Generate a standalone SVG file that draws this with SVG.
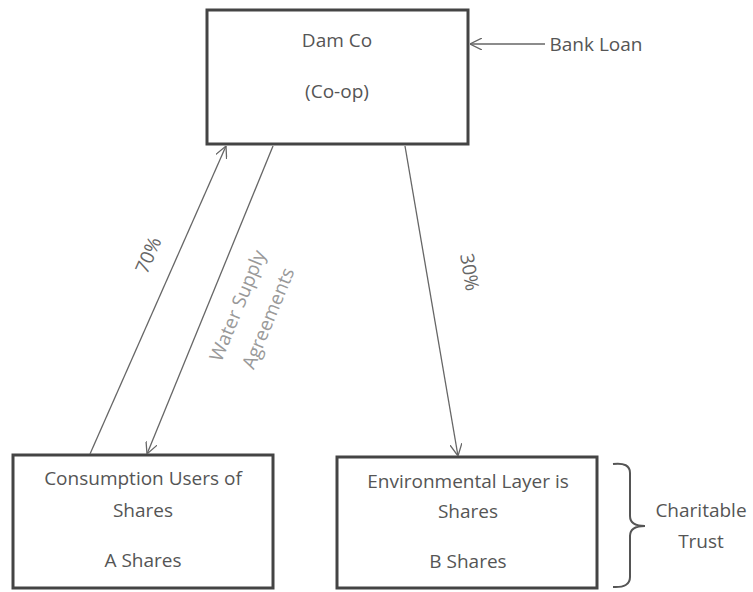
<svg xmlns="http://www.w3.org/2000/svg" width="753" height="592" viewBox="0 0 753 592">
<style>
.box{fill:#fff;stroke:#444;stroke-width:3}
.lbl{font-family:"Open Sans","Noto Sans",sans-serif;font-size:19px;fill:#555;text-anchor:middle}
.pct{fill:#666}
.light{fill:#999}
.conn{stroke:#666;stroke-width:1.3;fill:none}
</style>
<defs>
<marker id="arr" viewBox="0 0 12 12" refX="12" refY="6" markerWidth="12" markerHeight="12" markerUnits="userSpaceOnUse" orient="auto">
<path d="M0,0 L12,6 L0,12" fill="none" stroke="#666" stroke-width="1.3"/>
</marker>
</defs>
<rect width="753" height="592" fill="#fff"/>
<g id="damco">
<rect class="box" x="207" y="10" width="261" height="134"/>
<text class="lbl" x="337" y="47">Dam Co</text>
<text class="lbl" x="337" y="98">(Co-op)</text>
</g>
<g id="bankloan">
<text class="lbl" x="596" y="51">Bank Loan</text>
</g>
<g id="consumption">
<rect class="box" x="13" y="455" width="260" height="133"/>
<text class="lbl" x="143" y="485">Consumption Users of</text>
<text class="lbl" x="143" y="517">Shares</text>
<text class="lbl" x="143" y="567">A Shares</text>
</g>
<g id="environmental">
<rect class="box" x="337" y="457" width="260" height="131"/>
<text class="lbl" x="468" y="488">Environmental Layer is</text>
<text class="lbl" x="468" y="518">Shares</text>
<text class="lbl" x="468" y="568">B Shares</text>
</g>
<g id="charitable">
<path d="M613,464 Q630,462 630,473 L630,516 Q630,526 645,526 Q630,526 630,536 L630,577 Q630,588 613,587" fill="none" stroke="#555" stroke-width="2"/>
<text class="lbl" x="701" y="517">Charitable</text>
<text class="lbl" x="701" y="548">Trust</text>
</g>
<g id="connectors">
<line class="conn" x1="545" y1="44" x2="470" y2="44" marker-end="url(#arr)"/>
<line class="conn" x1="90" y1="454" x2="226" y2="146" marker-end="url(#arr)"/>
<line class="conn" x1="273" y1="146" x2="147" y2="454" marker-end="url(#arr)"/>
<line class="conn" x1="405" y1="146" x2="458" y2="456" marker-end="url(#arr)"/>
<text class="lbl pct" transform="translate(148,255) rotate(-66.3)" y="7">70%</text>
<text class="lbl light" transform="translate(253,312) rotate(-67.6)"><tspan x="0" y="-10">Water Supply</tspan><tspan x="0" y="23">Agreements</tspan></text>
<text class="lbl pct" transform="translate(470,272) rotate(80.3)" y="7">30%</text>
</g>
</svg>
